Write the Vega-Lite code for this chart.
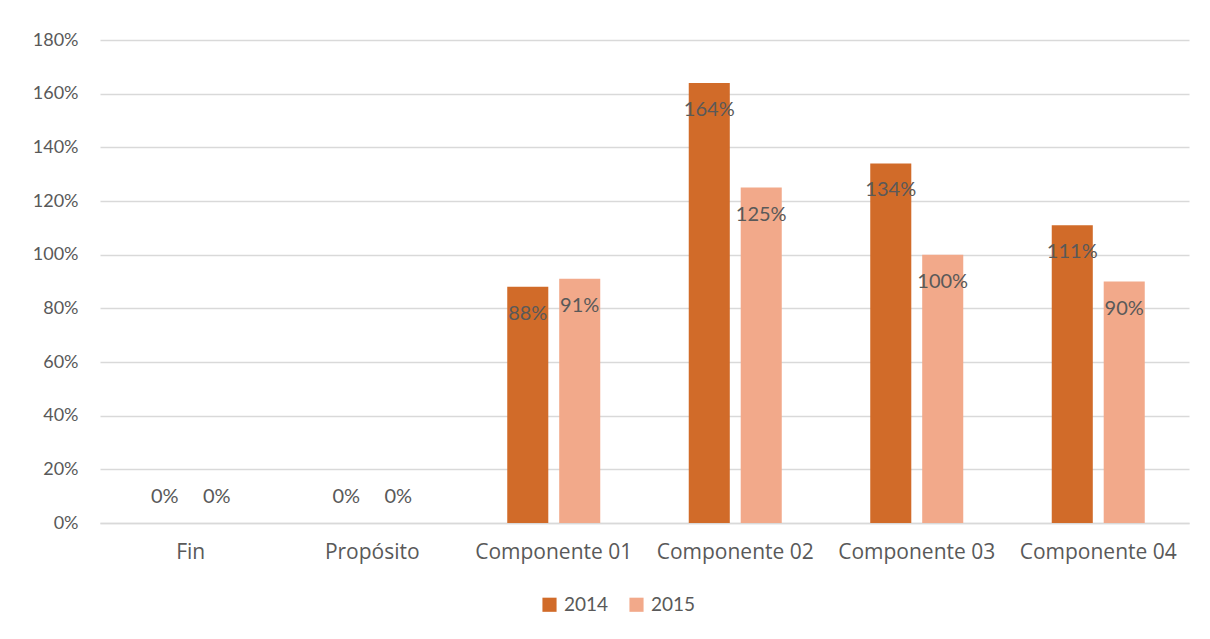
{
  "$schema": "https://vega.github.io/schema/vega-lite/v6.json",
  "width": 1089,
  "height": 483,
  "autosize": {"type": "none"},
  "padding": {"left": 100, "top": 40, "right": 21, "bottom": 116},
  "background": "white",
  "config": {
    "font": "Lato",
    "view": {"stroke": null},
    "axis": {"labelFont": "Lato", "labelColor": "#595959", "labelFontSize": 18, "titleFont": "Lato"},
    "legend": {"labelFont": "Lato"}
  },
  "data": {
    "values": [
      {"cat": "Fin", "year": "2014", "value": 0},
      {"cat": "Fin", "year": "2015", "value": 0},
      {"cat": "Propósito", "year": "2014", "value": 0},
      {"cat": "Propósito", "year": "2015", "value": 0},
      {"cat": "Componente 01", "year": "2014", "value": 0.88},
      {"cat": "Componente 01", "year": "2015", "value": 0.91},
      {"cat": "Componente 02", "year": "2014", "value": 1.64},
      {"cat": "Componente 02", "year": "2015", "value": 1.25},
      {"cat": "Componente 03", "year": "2014", "value": 1.34},
      {"cat": "Componente 03", "year": "2015", "value": 1.00},
      {"cat": "Componente 04", "year": "2014", "value": 1.11},
      {"cat": "Componente 04", "year": "2015", "value": 0.90}
    ]
  },
  "encoding": {
    "x": {
      "field": "cat", "type": "nominal", "sort": null, "title": null,
      "scale": {"paddingInner": 0.4876, "paddingOuter": 0.2438},
      "axis": {"labelAngle": 0, "ticks": false, "domainColor": "#D9D9D9", "domainWidth": 1.5, "labelPadding": 18, "grid": false, "labelFont": "Open Sans", "labelFontSize": 21}
    },
    "xOffset": {"field": "year", "type": "nominal", "scale": {"paddingInner": 0.21, "paddingOuter": 0}},
    "y": {
      "field": "value", "type": "quantitative", "title": null,
      "scale": {"domain": [0, 1.8], "nice": false},
      "axis": {"format": ".0%", "values": [0, 0.2, 0.4, 0.6, 0.8, 1.0, 1.2, 1.4, 1.6, 1.8], "domain": false, "ticks": false, "gridColor": "#D9D9D9", "gridWidth": 1.5, "labelPadding": 22}
    }
  },
  "layer": [
    {
      "mark": {"type": "bar"},
      "encoding": {
        "color": {
          "field": "year", "type": "nominal", "title": null,
          "scale": {"domain": ["2014", "2015"], "range": ["#D16B29", "#F2A98A"]},
          "legend": {"orient": "none", "legendX": 440, "legendY": 555, "direction": "horizontal", "symbolType": "square", "symbolSize": 200, "symbolStrokeWidth": 0, "labelFontSize": 19, "labelColor": "#595959", "columnPadding": 18, "symbolOffset": 0, "labelOffset": 5}
        }
      }
    },
    {
      "transform": [{"filter": "datum.value > 0"}],
      "mark": {"type": "text", "baseline": "middle", "dy": 27, "fontSize": 20, "color": "#595959"},
      "encoding": {"text": {"field": "value", "type": "quantitative", "format": ".0%"}}
    },
    {
      "transform": [{"filter": "datum.value == 0"}],
      "mark": {"type": "text", "baseline": "middle", "dy": -26, "fontSize": 20, "color": "#595959"},
      "encoding": {"text": {"field": "value", "type": "quantitative", "format": ".0%"}}
    }
  ]
}
